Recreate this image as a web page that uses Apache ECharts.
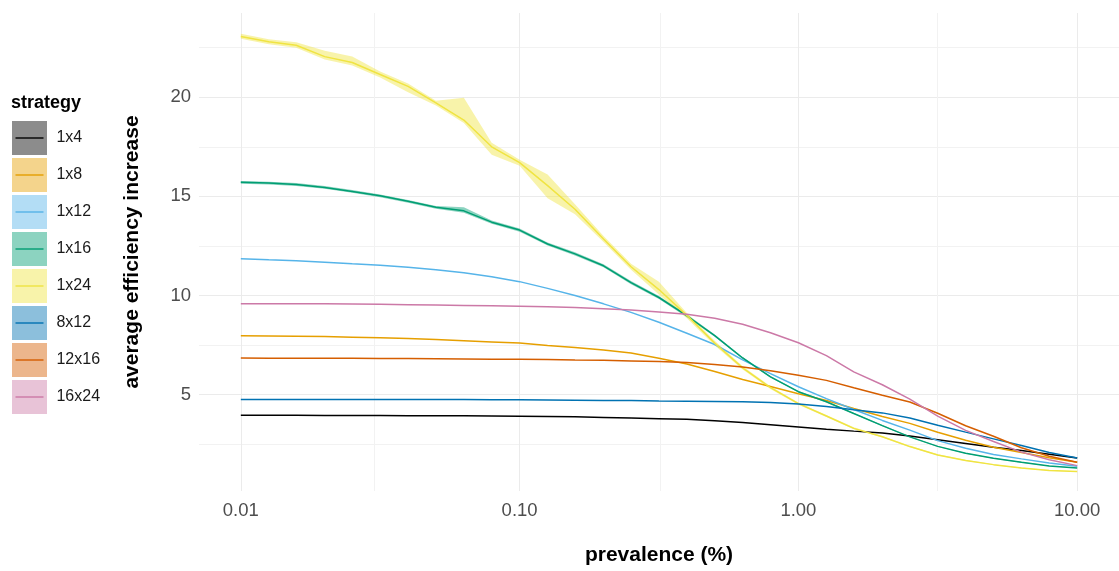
<!DOCTYPE html>
<html lang="en">
<head>
    <meta charset="utf-8">
    <title>average efficiency increase</title>
    <script src="https://cdn.jsdelivr.net/npm/echarts@6/dist/echarts.min.js"></script>
    <style>
        html, body { margin: 0; padding: 0; background: #fff; }
        #chart { width: 1119px; height: 571px; }
    </style>
</head>
<body>
<div id="chart"></div>
<script>
    // prevalence (%) sample points, log spaced
    var prevalence = [0.01, 0.0126, 0.0158, 0.02, 0.0251, 0.0316, 0.0398, 0.0501, 0.0631, 0.0794,
        0.1, 0.126, 0.158, 0.2, 0.251, 0.316, 0.398, 0.501, 0.631, 0.794,
        1, 1.26, 1.58, 2, 2.51, 3.16, 3.98, 5.01, 6.31, 7.94, 10];

    var strategies = ['1x4', '1x8', '1x12', '1x16', '1x24', '8x12', '12x16', '16x24'];
    var lineColors = ['#000000', '#E69F00', '#56B4E9', '#009E73', '#F0E442', '#0072B2', '#D55E00', '#CC79A7'];
    var fillColors = ['rgba(0,0,0,0.45)', 'rgba(230,159,0,0.45)', 'rgba(86,180,233,0.45)', 'rgba(0,158,115,0.45)',
        'rgba(240,228,66,0.45)', 'rgba(0,114,178,0.45)', 'rgba(213,94,0,0.45)', 'rgba(204,121,167,0.45)'];

    var s1x4 = [3.96, 3.96, 3.96, 3.95, 3.95, 3.95, 3.94, 3.94, 3.93, 3.92, 3.91, 3.9, 3.88, 3.85, 3.82, 3.79,
        3.76, 3.68, 3.59, 3.48, 3.37, 3.25, 3.16, 3.07, 2.92, 2.73, 2.54, 2.35, 2.18, 1.99, 1.8];
    var s1x8 = [7.97, 7.96, 7.95, 7.93, 7.9, 7.87, 7.83, 7.78, 7.72, 7.66, 7.6, 7.48, 7.38, 7.25, 7.1, 6.84,
        6.55, 6.17, 5.76, 5.41, 5.05, 4.7, 4.3, 3.9, 3.55, 3.1, 2.7, 2.35, 2.08, 1.82, 1.59];
    var s1x12 = [11.86, 11.8, 11.75, 11.68, 11.6, 11.53, 11.42, 11.3, 11.15, 10.95, 10.7, 10.36, 10.0, 9.58, 9.15, 8.65,
        8.1, 7.53, 6.75, 6.06, 5.4, 4.8, 4.25, 3.7, 3.21, 2.68, 2.3, 1.98, 1.76, 1.55, 1.39];
    var s1x16 = [15.71, 15.67, 15.6, 15.45, 15.25, 15.03, 14.75, 14.45, 14.27, 13.7, 13.3, 12.6, 12.1, 11.5, 10.65, 9.9,
        8.98, 7.98, 6.85, 5.9, 5.15, 4.64, 4.05, 3.44, 2.87, 2.39, 2.04, 1.79, 1.59, 1.4, 1.3];
    var s1x24 = [23.06, 22.8, 22.62, 22.05, 21.75, 21.15, 20.55, 19.72, 18.85, 17.5, 16.7, 15.54, 14.35, 12.85, 11.45, 10.3,
        9.0, 7.6, 6.35, 5.35, 4.55, 3.92, 3.3, 2.88, 2.38, 1.96, 1.68, 1.47, 1.3, 1.18, 1.12];
    var s8x12 = [4.76, 4.76, 4.76, 4.76, 4.76, 4.76, 4.75, 4.75, 4.75, 4.74, 4.74, 4.73, 4.72, 4.71, 4.7, 4.68,
        4.67, 4.66, 4.64, 4.6, 4.53, 4.4, 4.24, 4.08, 3.82, 3.46, 3.11, 2.77, 2.43, 2.08, 1.8];
    var s12x16 = [6.85, 6.84, 6.84, 6.83, 6.83, 6.82, 6.82, 6.81, 6.8, 6.79, 6.78, 6.77, 6.75, 6.73, 6.7, 6.67,
        6.62, 6.52, 6.39, 6.2, 5.98, 5.72, 5.35, 4.97, 4.63, 4.06, 3.43, 2.9, 2.32, 1.89, 1.59];
    var s16x24 = [9.59, 9.59, 9.58, 9.58, 9.57, 9.56, 9.54, 9.52, 9.5, 9.48, 9.46, 9.43, 9.39, 9.33, 9.27, 9.17,
        9.05, 8.85, 8.55, 8.12, 7.62, 6.97, 6.15, 5.5, 4.77, 3.92, 3.2, 2.64, 2.1, 1.72, 1.42];

    // confidence ribbons (only visible ones)
    var lo1x24 = [22.95, 22.68, 22.5, 21.9, 21.6, 21.0, 20.25, 19.58, 18.7, 17.1, 16.55, 14.9, 14.1, 12.7, 11.3, 10.05,
        8.85, 7.48, 6.27, 5.28, 4.49, 3.87, 3.25, 2.84, 2.35, 1.93, 1.65, 1.45, 1.28, 1.16, 1.1];
    var hi1x24 = [23.2, 22.92, 22.78, 22.35, 22.05, 21.3, 20.7, 19.82, 19.97, 17.7, 16.85, 16.1, 14.6, 13.0, 11.6, 10.7,
        9.12, 7.72, 6.43, 5.42, 4.61, 3.97, 3.35, 2.92, 2.42, 1.99, 1.71, 1.49, 1.32, 1.2, 1.14];
    var lo1x16 = [15.64, 15.6, 15.53, 15.38, 15.18, 14.96, 14.68, 14.38, 14.18, 13.62, 13.22, 12.52, 12.02, 11.42, 10.57, 9.82,
        8.91, 7.92, 6.8, 5.86, 5.11, 4.6, 4.02, 3.41, 2.85, 2.37, 2.02, 1.77, 1.57, 1.39, 1.29];
    var hi1x16 = [15.78, 15.74, 15.67, 15.52, 15.32, 15.1, 14.82, 14.52, 14.45, 13.78, 13.38, 12.68, 12.18, 11.58, 10.73, 9.98,
        9.05, 8.04, 6.9, 5.94, 5.19, 4.68, 4.08, 3.47, 2.89, 2.41, 2.06, 1.81, 1.61, 1.41, 1.31];

    var values = [s1x4, s1x8, s1x12, s1x16, s1x24, s8x12, s12x16, s16x24];

    // minor vertical grid breaks (half decades, as ggplot draws them)
    var xMinorBreaks = [0.0316, 0.316, 3.16];

    // plot limits (ggplot style 5% expansion)
    var xLimits = [0.01 / Math.pow(10, 0.15), 10 * Math.pow(10, 0.15)];
    var yLimits = [0.14, 24.25];

    var font = 'Liberation Sans, Arial, Helvetica, sans-serif';

    function pairs(ys) {
        return prevalence.map(function (p, i) { return [p, ys[i]]; });
    }

    function ribbon(name, lo, hi, fill) {
        return {
            type: 'custom',
            name: name,
            silent: true,
            z: 1,
            data: prevalence.map(function (p, i) { return [p, lo[i], hi[i]]; }),
            encode: { x: 0, y: [1, 2] },
            renderItem: function (params, api) {
                if (params.dataIndex !== 0) return null;
                var top = [], bottom = [];
                for (var i = 0; i < prevalence.length; i++) {
                    top.push(api.coord([prevalence[i], hi[i]]));
                    bottom.unshift(api.coord([prevalence[i], lo[i]]));
                }
                return { type: 'polygon', shape: { points: top.concat(bottom) }, style: { fill: fill } };
            }
        };
    }

    var series = [{
        // minor vertical grid lines
        type: 'line', name: 'minor grid', data: [], z: 0, silent: true,
        markLine: {
            z: 0, silent: true, symbol: 'none', label: { show: false },
            lineStyle: { color: '#f2f2f2', width: 1, type: 'solid' },
            data: xMinorBreaks.map(function (v) { return { xAxis: v }; })
        }
    },
        ribbon('band 1x16', lo1x16, hi1x16, fillColors[3]),
        ribbon('band 1x24', lo1x24, hi1x24, fillColors[4])
    ];
    strategies.forEach(function (name, i) {
        series.push({
            type: 'line',
            name: name,
            data: pairs(values[i]),
            symbol: 'none',
            z: 2,
            lineStyle: { width: 1.5, color: lineColors[i] },
            itemStyle: { color: lineColors[i] },
            emphasis: { disabled: true }
        });
    });

    var chart = echarts.init(document.getElementById('chart'), null, { renderer: 'canvas' });
    chart.setOption({
        animation: false,
        textStyle: { fontFamily: font },
        title: {
            text: 'strategy', left: 6, top: 89,
            textStyle: { fontFamily: font, fontSize: 18, fontWeight: 'bold', color: '#000' }
        },
        legend: [{
            orient: 'vertical', left: 7, top: 116,
            itemWidth: 35, itemHeight: 34, itemGap: 3,
            icon: 'rect', selectedMode: false,
            formatter: ' {name}',
            textStyle: { fontFamily: font, fontSize: 16, color: '#1a1a1a' },
            data: strategies.map(function (n, i) {
                return { name: n, itemStyle: { color: fillColors[i], borderWidth: 0 } };
            })
        }, {
            orient: 'vertical', left: 10.5, top: 116,
            itemWidth: 28, itemHeight: 34, itemGap: 3,
            icon: 'path://M0,0M28,34M0,16.3H28V17.7H0Z',
            selectedMode: false,
            formatter: ' {name}',
            textStyle: { fontFamily: font, fontSize: 16, color: 'rgba(0,0,0,0)' },
            data: strategies.map(function (n, i) {
                return { name: n, itemStyle: { color: lineColors[i], borderWidth: 0 } };
            })
        }],
        grid: { left: 199, right: -8, top: 13, bottom: 77, containLabel: false },
        xAxis: {
            type: 'log', logBase: 10,
            min: xLimits[0], max: xLimits[1],
            name: 'prevalence (%)', nameLocation: 'middle', nameGap: 54,
            nameTextStyle: { fontFamily: font, fontSize: 21, fontWeight: 'bold', color: '#000' },
            axisLine: { show: false }, axisTick: { show: false },
            axisLabel: {
                fontSize: 18.5, color: '#4d4d4d', margin: 10,
                showMinLabel: false, showMaxLabel: false,
                formatter: function (v) { return Number(v).toFixed(2); }
            },
            splitLine: { show: true, showMinLine: false, showMaxLine: false, lineStyle: { color: '#ebebeb', width: 1 } },
            minorSplitLine: { show: false }
        },
        yAxis: {
            type: 'value',
            min: yLimits[0], max: yLimits[1], splitNumber: 5,
            name: 'average efficiency increase', nameLocation: 'middle', nameGap: 56, nameRotate: 90,
            nameTextStyle: { fontFamily: font, fontSize: 21, fontWeight: 'bold', color: '#000' },
            axisLine: { show: false }, axisTick: { show: false },
            axisLabel: {
                fontSize: 18.5, color: '#4d4d4d', margin: 8,
                showMinLabel: false, showMaxLabel: false
            },
            splitLine: { show: true, showMinLine: false, showMaxLine: false, lineStyle: { color: '#ebebeb', width: 1 } },
            minorTick: { show: false, splitNumber: 2 },
            minorSplitLine: { show: true, lineStyle: { color: '#f2f2f2', width: 1 } }
        },
        series: series
    });
</script>
</body>
</html>
